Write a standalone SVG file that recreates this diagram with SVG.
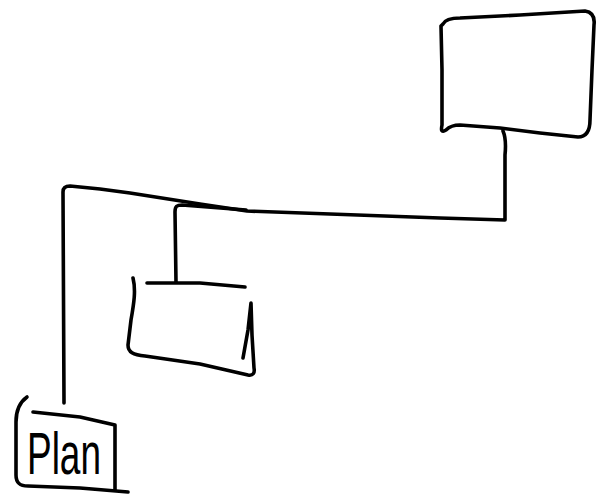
<svg xmlns="http://www.w3.org/2000/svg" width="599" height="496" viewBox="0 0 599 496">
<style>
.s{fill:none;stroke:#000;stroke-width:3.6;stroke-linecap:round;stroke-linejoin:round}
.t{font-family:"Liberation Sans",Arial,sans-serif;font-size:60px;fill:#000}
</style>
<rect width="599" height="496" fill="#fff"/>
<g id="connectors">
<path class="s" d="M503,131 C506,138 506,145 505,155 L505,220 L440,218 L330,214 L247,211 L200,204 L130,193 L100,189 L70,186 C65,186 63,188 63,192 L64,403"/>
<path class="s" d="M176,282 L175,212 C175,206 177,205 182,205 L246,210"/>
</g>
<g id="node-top">
<path class="s" d="M443,24 C445,20 450,18 460,18 L520,15 L585,11 C592,12 595,17 594,25 L592,70 L590,120 C590,130 587,137 578,137 L540,133 L500,128 L460,125 C452,125 448,128 446,130 C441,133 441,130 442,125 L442,70 L441,26 Z"/>
</g>
<g id="node-middle">
<path class="s" d="M147,283 L200,283 L245,287"/>
<path class="s" d="M133,278 C136,290 134,303 131,320 L128,345 C128,352 133,355 145,356 L200,364 L248,375 C253,376 255,373 254,368 L252,335 L251,303 L248,330 L243,358"/>
</g>
<g id="node-plan">
<path class="s" d="M27,397 C20,402 16,410 16,422 L16,475 C16,483 20,486 28,486 L80,488 L128,492"/>
<path class="s" d="M33,412 L80,417 L115,425 L115,490"/>
<text class="t" x="27" y="474" textLength="74" lengthAdjust="spacingAndGlyphs">Plan</text>
</g>
</svg>
